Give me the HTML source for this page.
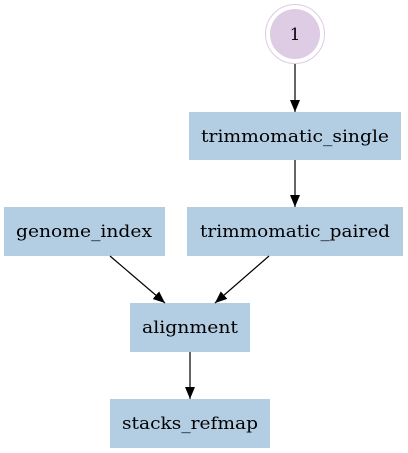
<!DOCTYPE html>
<html><head><meta charset="utf-8"><style>
html,body{margin:0;padding:0;background:#fff;}
svg{display:block;}
text{font-family:"DejaVu Serif","Liberation Serif",serif;font-size:17px;fill:#000;text-anchor:middle;}
</style></head><body>
<svg width="408" height="453" viewBox="0 0 408 453">
<defs><marker id="a" markerWidth="12" markerHeight="12" refX="12" refY="6" orient="auto" markerUnits="userSpaceOnUse"><path d="M0,1 L12,6 L0,11 Z" fill="#000"/></marker></defs>
<circle cx="295" cy="34" r="29.5" fill="#fff" stroke="#decbe4" stroke-width="1"/>
<circle cx="295" cy="34" r="25" fill="#decbe4"/>
<text x="295" y="40">1</text>
<rect x="189" y="112" width="212" height="48" fill="#b3cde3"/>
<text x="295" y="142" textLength="188" lengthAdjust="spacingAndGlyphs">trimmomatic_single</text>
<rect x="4" y="207" width="161" height="49" fill="#b3cde3"/>
<text x="84" y="237" textLength="136" lengthAdjust="spacingAndGlyphs">genome_index</text>
<rect x="187" y="207" width="216" height="49" fill="#b3cde3"/>
<text x="295" y="237" textLength="190" lengthAdjust="spacingAndGlyphs">trimmomatic_paired</text>
<rect x="130" y="303" width="120" height="49" fill="#b3cde3"/>
<text x="190" y="333" textLength="96" lengthAdjust="spacingAndGlyphs">alignment</text>
<rect x="110" y="399" width="160" height="49" fill="#b3cde3"/>
<text x="190" y="429" textLength="136" lengthAdjust="spacingAndGlyphs">stacks_refmap</text>
<g stroke="#000" stroke-width="1.2" fill="none">
<line x1="295" y1="64" x2="295" y2="112" marker-end="url(#a)"/>
<line x1="295" y1="160" x2="295" y2="207" marker-end="url(#a)"/>
<line x1="110" y1="256" x2="165" y2="303" marker-end="url(#a)"/>
<line x1="269" y1="256" x2="215" y2="303" marker-end="url(#a)"/>
<line x1="190" y1="352" x2="190" y2="399" marker-end="url(#a)"/>
</g>
</svg>
</body></html>
